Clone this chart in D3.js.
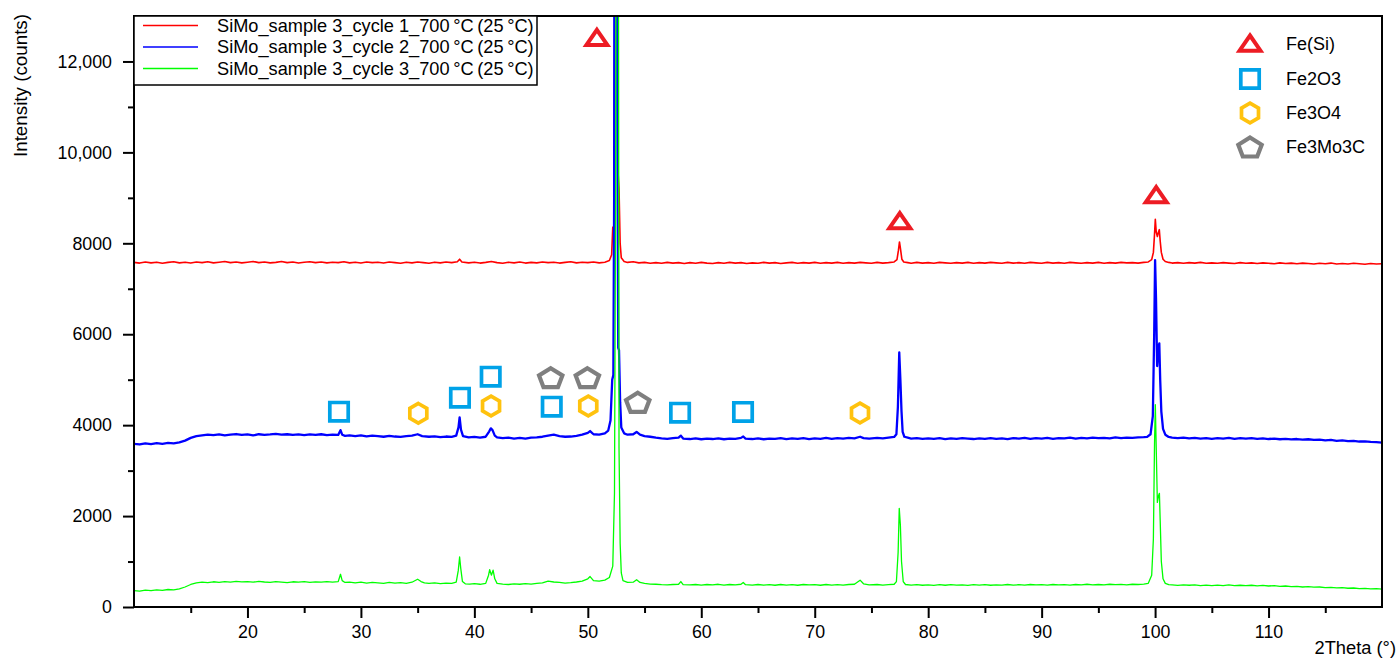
<!DOCTYPE html>
<html><head><meta charset="utf-8">
<script src="https://cdn.jsdelivr.net/npm/d3@7"></script>
<style>body{margin:0;background:#fff;overflow:hidden} svg text{font-family:"Liberation Sans",Arial,sans-serif;fill:#000}</style>
</head><body><svg id="c" width="1399" height="659"></svg>
<script>
// ---------- data ----------
const seriesNames = [
  "SiMo_sample 3_cycle 1_700\u2009°C\u2009(25\u2009°C)",
  "SiMo_sample 3_cycle 2_700\u2009°C\u2009(25\u2009°C)",
  "SiMo_sample 3_cycle 3_700\u2009°C\u2009(25\u2009°C)"
];
const seriesColors = ["#FF0000", "#0000FF", "#00FF00"];

const cycle1 = [[10,7580],[10.5,7565],[11,7590],[11.5,7570],[12,7585],[12.5,7560],[13,7580],[13.5,7595],[14,7570],[14.5,7585],[15,7565],[15.5,7590],[16,7575],[16.5,7595],[17,7570],[17.5,7585],[18,7600],[18.5,7575],[19,7590],[19.5,7570],[20,7585],[20.5,7600],[21,7575],[21.5,7590],[22,7570],[22.5,7580],[23,7600],[23.5,7575],[24,7590],[24.5,7565],[25,7585],[25.5,7595],[26,7575],[26.5,7590],[27,7570],[27.5,7585],[28,7575],[28.5,7595],[29,7570],[29.5,7585],[30,7565],[30.5,7590],[31,7575],[31.5,7585],[32,7565],[32.5,7590],[33,7575],[33.5,7560],[34,7585],[34.5,7570],[35,7590],[35.5,7575],[36,7560],[36.5,7585],[37,7570],[37.5,7590],[38,7575],[38.5,7595],[38.7,7650],[38.9,7590],[39.5,7570],[40,7585],[40.5,7565],[41,7580],[41.5,7600],[42,7575],[42.5,7560],[43,7585],[43.5,7570],[44,7590],[44.5,7565],[45,7580],[45.5,7570],[46,7590],[46.5,7575],[47,7585],[47.5,7565],[48,7580],[48.5,7595],[49,7570],[49.5,7585],[50,7575],[50.5,7590],[51,7570],[51.5,7585],[51.9,7620],[52.1,7750],[52.2,8350],[52.3,8380],[52.4,14000],[52.5,26000],[52.6,21000],[52.68,9500],[52.75,9200],[52.85,8000],[52.95,7680],[53.2,7600],[53.5,7580],[54,7595],[54.5,7570],[55,7580],[55.5,7560],[56,7575],[56.5,7560],[57,7580],[57.5,7565],[58,7575],[58.5,7555],[59,7575],[59.5,7560],[60,7580],[60.5,7565],[61,7555],[61.5,7575],[62,7560],[62.5,7580],[63,7565],[63.5,7575],[64,7555],[64.5,7570],[65,7560],[65.5,7580],[66,7565],[66.5,7575],[67,7555],[67.5,7570],[68,7580],[68.5,7560],[69,7575],[69.5,7565],[70,7580],[70.5,7560],[71,7575],[71.5,7565],[72,7580],[72.5,7560],[73,7575],[73.5,7565],[74,7580],[74.5,7570],[75,7560],[75.5,7580],[76,7565],[76.5,7575],[77,7590],[77.25,7640],[77.38,7850],[77.47,8030],[77.56,7880],[77.68,7650],[77.85,7590],[78.2,7575],[78.5,7560],[79,7580],[79.5,7565],[80,7575],[80.5,7560],[81,7580],[81.5,7570],[82,7560],[82.5,7575],[83,7565],[83.5,7580],[84,7560],[84.5,7575],[85,7565],[85.5,7580],[86,7570],[86.5,7560],[87,7580],[87.5,7565],[88,7575],[88.5,7560],[89,7580],[89.5,7570],[90,7560],[90.5,7580],[91,7565],[91.5,7575],[92,7560],[92.5,7580],[93,7570],[93.5,7560],[94,7575],[94.5,7565],[95,7580],[95.5,7560],[96,7575],[96.5,7565],[97,7580],[97.5,7570],[98,7575],[98.5,7565],[99,7580],[99.4,7590],[99.7,7640],[99.85,7800],[99.95,8200],[100.02,8530],[100.1,8250],[100.2,8150],[100.3,8250],[100.37,8300],[100.45,8050],[100.55,7800],[100.7,7650],[100.9,7600],[101.2,7580],[101.5,7565],[102,7575],[102.5,7560],[103,7575],[103.5,7565],[104,7580],[104.5,7560],[105,7570],[105.5,7560],[106,7575],[106.5,7565],[107,7555],[107.5,7575],[108,7560],[108.5,7570],[109,7555],[109.5,7570],[110,7560],[110.5,7550],[111,7570],[111.5,7555],[112,7565],[112.5,7550],[113,7565],[113.5,7555],[114,7545],[114.5,7560],[115,7550],[115.5,7565],[116,7545],[116.5,7555],[117,7545],[117.5,7560],[118,7550],[118.5,7540],[119,7555],[119.5,7545],[120,7550]];

const cycle2 = [[10,3590],[10.5,3575],[11,3600],[11.5,3585],[12,3605],[12.5,3590],[13,3610],[13.5,3600],[14,3620],[14.5,3660],[15,3720],[15.5,3760],[16,3775],[16.5,3790],[17,3780],[17.5,3795],[18,3775],[18.5,3790],[19,3805],[19.5,3785],[20,3795],[20.5,3775],[21,3800],[21.5,3785],[22,3795],[22.5,3810],[23,3790],[23.5,3800],[24,3785],[24.5,3795],[25,3780],[25.5,3795],[26,3785],[26.5,3800],[27,3780],[27.5,3790],[28,3785],[28.2,3890],[28.35,3790],[28.6,3765],[29,3775],[29.5,3760],[30,3775],[30.5,3755],[31,3770],[31.5,3760],[32,3745],[32.5,3765],[33,3750],[33.5,3740],[34,3760],[34.5,3770],[35,3800],[35.4,3760],[36,3745],[36.5,3755],[37,3735],[37.5,3750],[38,3740],[38.4,3770],[38.6,3950],[38.7,4170],[38.82,3900],[39,3760],[39.5,3730],[40,3740],[40.5,3725],[41,3745],[41.3,3860],[41.45,3930],[41.6,3890],[41.8,3770],[42,3730],[42.5,3715],[43,3725],[43.5,3705],[44,3720],[44.5,3705],[45,3725],[45.5,3730],[46,3745],[46.5,3770],[47,3790],[47.5,3760],[48,3745],[48.5,3750],[49,3765],[49.5,3790],[50,3830],[50.2,3870],[50.5,3800],[51,3790],[51.5,3820],[51.8,3880],[52.0,4100],[52.15,5000],[52.25,5100],[52.32,9000],[52.38,26000],[52.52,26000],[52.6,11000],[52.68,5700],[52.75,5650],[52.85,4500],[52.95,3950],[53.2,3820],[53.5,3790],[54,3800],[54.3,3850],[54.6,3790],[55,3760],[55.5,3745],[56,3725],[56.5,3710],[57,3700],[57.5,3715],[58,3725],[58.2,3770],[58.4,3705],[59,3695],[59.5,3710],[60,3690],[60.5,3705],[61,3695],[61.5,3710],[62,3690],[62.5,3705],[63,3700],[63.5,3720],[63.7,3750],[63.9,3705],[64.5,3695],[65,3710],[65.5,3690],[66,3705],[66.5,3700],[67,3715],[67.5,3695],[68,3710],[68.5,3700],[69,3715],[69.5,3695],[70,3710],[70.5,3700],[71,3720],[71.5,3700],[72,3715],[72.5,3705],[73,3720],[73.5,3710],[74,3745],[74.3,3715],[74.8,3705],[75.5,3720],[76,3710],[76.5,3725],[77,3740],[77.2,3800],[77.33,4400],[77.45,5600],[77.55,5000],[77.65,4300],[77.75,3850],[77.9,3745],[78.2,3725],[78.5,3705],[79,3715],[79.5,3700],[80,3710],[80.5,3700],[81,3715],[81.5,3695],[82,3710],[82.5,3700],[83,3715],[83.5,3705],[84,3695],[84.5,3710],[85,3700],[85.5,3715],[86,3700],[86.5,3710],[87,3695],[87.5,3715],[88,3705],[88.5,3720],[89,3700],[89.5,3715],[90,3705],[90.5,3720],[91,3700],[91.5,3715],[92,3710],[92.5,3725],[93,3705],[93.5,3720],[94,3710],[94.5,3725],[95,3715],[95.5,3720],[96,3710],[96.5,3730],[97,3715],[97.5,3725],[98,3720],[98.5,3730],[99,3735],[99.3,3740],[99.6,3800],[99.8,4200],[99.92,6000],[100.0,7630],[100.08,6800],[100.18,5300],[100.3,5700],[100.37,5800],[100.45,5000],[100.55,4300],[100.7,3920],[100.9,3790],[101.2,3740],[101.5,3725],[102,3715],[102.5,3725],[103,3710],[103.5,3720],[104,3705],[104.5,3715],[105,3700],[105.5,3715],[106,3705],[106.5,3720],[107,3700],[107.5,3715],[108,3705],[108.5,3715],[109,3700],[109.5,3710],[110,3695],[110.5,3705],[111,3690],[111.5,3700],[112,3685],[112.5,3695],[113,3680],[113.5,3690],[114,3675],[114.5,3680],[115,3665],[115.5,3675],[116,3655],[116.5,3665],[117,3650],[117.5,3655],[118,3640],[118.5,3645],[119,3630],[119.5,3625],[120,3615]];

const cycle3 = [[10,360],[10.5,350],[11,372],[11.5,358],[12,378],[12.5,365],[13,385],[13.5,378],[14,400],[14.5,440],[15,495],[15.5,530],[16,545],[16.5,535],[17,555],[17.5,540],[18,560],[18.5,548],[19,565],[19.5,552],[20,560],[20.5,545],[21,565],[21.5,550],[22,540],[22.5,560],[23,548],[23.5,535],[24,555],[24.5,545],[25,560],[25.5,540],[26,552],[26.5,545],[27,560],[27.5,545],[28,558],[28.2,720],[28.35,580],[28.6,540],[29,548],[29.5,530],[30,545],[30.5,525],[31,540],[31.5,530],[32,520],[32.5,540],[33,525],[33.5,535],[34,520],[34.5,545],[35,610],[35.3,560],[35.6,530],[36,520],[36.5,530],[37,515],[37.5,525],[38,520],[38.4,545],[38.58,800],[38.7,1100],[38.8,850],[38.95,560],[39.2,510],[39.6,505],[40,515],[40.5,500],[41,520],[41.25,700],[41.35,820],[41.5,700],[41.65,810],[41.8,620],[42,520],[42.5,505],[43,495],[43.5,510],[44,500],[44.5,515],[45,505],[45.5,520],[46,530],[46.5,570],[47,550],[47.5,540],[48,525],[48.5,535],[49,550],[49.5,570],[50,620],[50.2,670],[50.5,580],[51,570],[51.5,590],[51.9,650],[52.2,900],[52.35,2500],[52.45,9000],[52.55,26000],[52.65,26000],[52.75,3500],[52.85,1400],[52.95,750],[53.1,580],[53.5,540],[54,545],[54.3,600],[54.6,540],[55,520],[55.5,505],[56,500],[56.5,490],[57,485],[57.5,495],[58,500],[58.2,560],[58.4,490],[59,485],[59.5,495],[60,480],[60.5,495],[61,485],[61.5,500],[62,480],[62.5,495],[63,485],[63.5,500],[63.7,540],[63.9,490],[64.5,480],[65,495],[65.5,480],[66,490],[66.5,478],[67,495],[67.5,482],[68,490],[68.5,478],[69,495],[69.5,485],[70,490],[70.5,478],[71,495],[71.5,482],[72,490],[72.5,480],[73,495],[73.5,500],[74,590],[74.3,510],[74.8,485],[75.5,495],[76,480],[76.5,490],[77,500],[77.2,560],[77.35,1200],[77.45,2170],[77.55,1800],[77.65,1000],[77.8,560],[78,495],[78.5,480],[79,490],[79.5,478],[80,488],[80.5,475],[81,490],[81.5,478],[82,492],[82.5,480],[83,488],[83.5,476],[84,490],[84.5,480],[85,492],[85.5,478],[86,488],[86.5,480],[87,495],[87.5,482],[88,490],[88.5,480],[89,495],[89.5,485],[90,490],[90.5,482],[91,495],[91.5,485],[92,492],[92.5,480],[93,495],[93.5,488],[94,500],[94.5,485],[95,495],[95.5,488],[96,500],[96.5,490],[97,498],[97.5,488],[98,500],[98.5,495],[99,505],[99.4,520],[99.7,700],[99.85,1500],[99.95,3600],[100.02,4450],[100.1,3500],[100.2,2300],[100.3,2450],[100.38,2500],[100.45,1900],[100.55,1000],[100.7,620],[100.9,520],[101.2,490],[101.5,485],[102,475],[102.5,488],[103,478],[103.5,485],[104,472],[104.5,482],[105,470],[105.5,480],[106,472],[106.5,485],[107,470],[107.5,478],[108,468],[108.5,478],[109,465],[109.5,475],[110,462],[110.5,470],[111,455],[111.5,462],[112,450],[112.5,455],[113,440],[113.5,448],[114,435],[114.5,440],[115,428],[115.5,432],[116,420],[116.5,425],[117,412],[117.5,418],[118,405],[118.5,410],[119,398],[119.5,402],[120,392]];

// phase markers [2theta, counts]
const phaseNames = ["Fe(Si)", "Fe2O3", "Fe3O4", "Fe3Mo3C"];
const phaseColors = ["#ED1C24", "#00A2E8", "#FFC20E", "#7F7F7F"];
const feSiMarks   = [[50.8,12520],[77.5,8490],[100.1,9060]];
const fe2o3Marks  = [[28.07,4296],[38.73,4604],[41.44,5066],[46.82,4406],[58.13,4274],[63.68,4290]];
const fe3o4Marks  = [[35.06,4261],[41.47,4422],[50.04,4422],[73.99,4268]];
const fe3mo3cMarks= [[46.73,5044],[49.96,5044],[54.40,4503]];

const xTicks = [20,30,40,50,60,70,80,90,100,110];
const xTickLabels = ["20","30","40","50","60","70","80","90","100","110"];
const xMinorTicks = [15,25,35,45,55,65,75,85,95,105,115];
const yTicks = [0,2000,4000,6000,8000,10000,12000];
const yTickLabels = ["0","2000","4000","6000","8000","10,000","12,000"];
const yMinorTicks = [1000,3000,5000,7000,9000,11000];
const xTitle = "2Theta (°)";
const yTitle = "Intensity (counts)";

// ---------- drawing ----------
const svg = d3.select("#c");
const FONT = '"Liberation Sans", Arial, sans-serif';
svg.append("rect").attr("width",1399).attr("height",659).attr("fill","#fff");

const x = d3.scaleLinear().domain([10,120]).range([134,1382]);
const y = d3.scaleLinear().domain([0,13000]).range([607,16]);

svg.append("defs").append("clipPath").attr("id","plotclip")
  .append("rect").attr("x",134).attr("y",16).attr("width",1248).attr("height",591);

const line = d3.line().x(d=>x(d[0])).y(d=>y(d[1]));
const series = [cycle1, cycle2, cycle3];
const widths = [1.6, 2.3, 1.3];
const plot = svg.append("g").attr("clip-path","url(#plotclip)");
series.forEach((s,i)=>{
  plot.append("path").datum(s).attr("d",line).attr("fill","none")
    .attr("stroke",seriesColors[i]).attr("stroke-width",widths[i]).attr("stroke-linejoin","round");
});

// axes
function styleAxis(g){
  g.attr("font-family",FONT).attr("font-size",17.8);
  g.select(".domain").remove();
  g.selectAll(".tick line").attr("stroke","#000").attr("stroke-width",2);
  g.selectAll(".tick text").attr("fill","#000");
}
svg.append("g").attr("transform","translate(134,0)")
  .call(d3.axisLeft(y).tickValues(yTicks).tickFormat((d,i)=>yTickLabels[i]).tickSize(11).tickSizeOuter(0).tickPadding(11))
  .call(styleAxis);
svg.append("g").attr("transform","translate(134,0)")
  .call(d3.axisLeft(y).tickValues(yMinorTicks).tickFormat("").tickSize(6).tickSizeOuter(0))
  .call(styleAxis);
svg.append("g").attr("transform","translate(0,607)")
  .call(d3.axisBottom(x).tickValues(xTicks).tickFormat((d,i)=>xTickLabels[i]).tickSize(11).tickSizeOuter(0).tickPadding(7))
  .call(styleAxis);
svg.append("g").attr("transform","translate(0,607)")
  .call(d3.axisBottom(x).tickValues(xMinorTicks).tickFormat("").tickSize(6).tickSizeOuter(0))
  .call(styleAxis);

// frame
svg.append("rect").attr("x",134).attr("y",16).attr("width",1248).attr("height",591)
  .attr("fill","none").attr("stroke","#000").attr("stroke-width",2);

// axis titles
svg.append("text").attr("x",1396).attr("y",654).attr("text-anchor","end")
  .attr("font-size",18.3).attr("font-family",FONT).text(xTitle);
svg.append("text").attr("transform","translate(27,14) rotate(-90)").attr("text-anchor","end")
  .attr("font-size",18.8).attr("font-family",FONT).text(yTitle);

// series legend
svg.append("rect").attr("x",134).attr("y",16).attr("width",403).attr("height",69)
  .attr("fill","#fff").attr("stroke","#000").attr("stroke-width",1.5);
const legRows = [25.5, 47, 68.5];
seriesNames.forEach((n,i)=>{
  svg.append("line").attr("x1",143).attr("x2",198).attr("y1",legRows[i]).attr("y2",legRows[i])
    .attr("stroke",seriesColors[i]).attr("stroke-width",1.5);
  svg.append("text").attr("x",217).attr("y",legRows[i]).attr("dy","0.35em")
    .attr("font-size",18.2).attr("font-family",FONT).text(n);
});

// marker shapes
function shapePath(k){
  if(k===0) return "M0,-8L10.5,7.2L-10.5,7.2Z";
  if(k===1) return "M-9.2,-9.2H9.2V9.2H-9.2Z";
  if(k===2){ const r=9.8; let p=""; for(let j=0;j<6;j++){const a=-Math.PI/2+j*Math.PI/3; p+=(j?"L":"M")+(r*Math.cos(a)).toFixed(2)+","+(r*Math.sin(a)).toFixed(2);} return p+"Z"; }
  const rx=12.3, ry=10.5; let p=""; for(let j=0;j<5;j++){const a=-Math.PI/2+j*2*Math.PI/5; p+=(j?"L":"M")+(rx*Math.cos(a)).toFixed(2)+","+(ry*Math.sin(a)+1).toFixed(2);} return p+"Z";
}
const strokeW = [4, 3.7, 3.7, 4.2];
const markSets = [feSiMarks, fe2o3Marks, fe3o4Marks, fe3mo3cMarks];
markSets.forEach((set,k)=>{
  svg.append("g").selectAll("path").data(set).join("path")
    .attr("transform",d=>`translate(${x(d[0])},${y(d[1])})`)
    .attr("d",shapePath(k)).attr("fill","none").attr("stroke",phaseColors[k])
    .attr("stroke-width",strokeW[k]).attr("stroke-linejoin","miter");
});

// phase legend
const phRows = [43.5, 79, 113, 147];
phaseNames.forEach((n,k)=>{
  svg.append("path").attr("transform",`translate(1250,${phRows[k]})`).attr("d",shapePath(k))
    .attr("fill","none").attr("stroke",phaseColors[k]).attr("stroke-width",strokeW[k]).attr("stroke-linejoin","miter");
  svg.append("text").attr("x",1286).attr("y",phRows[k]).attr("dy","0.35em")
    .attr("font-size",18).attr("font-family",FONT).text(n);
});
</script></body></html>
